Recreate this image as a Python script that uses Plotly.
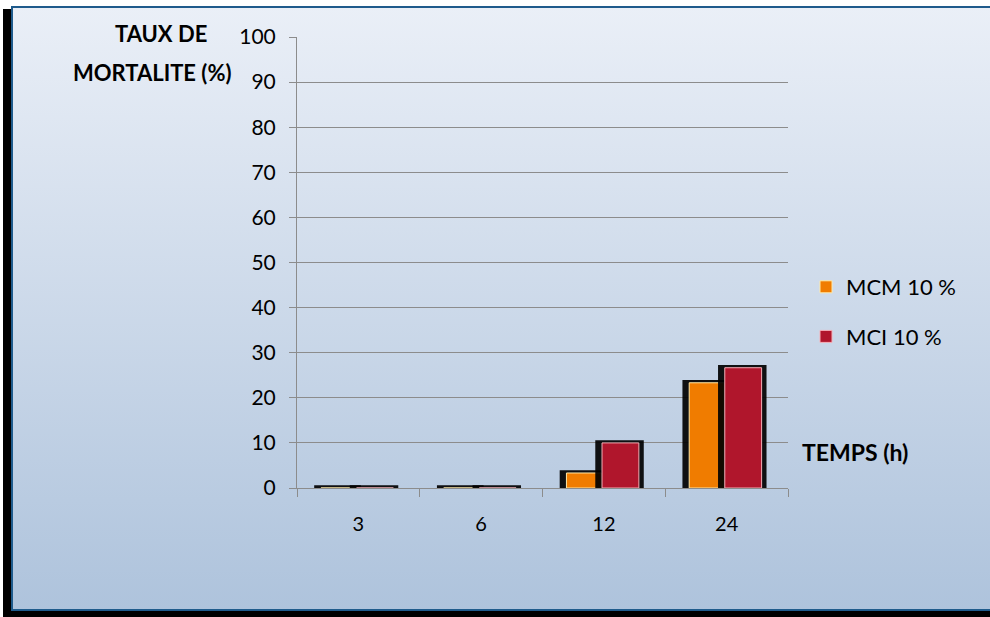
import base64
import plotly.graph_objects as go

# Mortality rate (%) by exposure time (h)
temps = ["3", "6", "12", "24"]
mcm_10 = [0, 0, 3.33, 23.33]
mci_10 = [0, 0, 10, 26.67]
y_ticks = [0, 10, 20, 30, 40, 50, 60, 70, 80, 90, 100]

W, H = 990, 617
ML, MR, MT, MB = 297, 202, 37, 129
PW, PH = W - ML - MR, H - MT - MB

# Frame: gradient fill, blue border, dark drop shadow on left and bottom
svg = (
    f'<svg xmlns="http://www.w3.org/2000/svg" width="{W}" height="{H}" '
    f'viewBox="0 0 {W} {H}" preserveAspectRatio="none">'
    '<defs><linearGradient id="g" x1="0" y1="0" x2="0" y2="1">'
    '<stop offset="0" stop-color="#eaeff7"/>'
    '<stop offset="1" stop-color="#aec3dc"/>'
    '</linearGradient></defs>'
    f'<rect width="{W}" height="{H}" fill="#ffffff"/>'
    f'<rect x="3" y="9" width="9" height="{H}" fill="#000"/>'
    f'<rect x="3" y="610" width="{W}" height="8" fill="#000"/>'
    f'<rect x="12" y="7" width="{W}" height="603" fill="url(#g)" '
    'stroke="#1f5b8c" stroke-width="2"/>'
    '</svg>'
)
bg_src = "data:image/svg+xml;base64," + base64.b64encode(svg.encode()).decode()

SHADOW_EXTRA = 0.6  # shadow rises slightly above each bar

fig = go.Figure()

series = [
    ("MCM 10 %", mcm_10, "#f07c00", "#ffe9a8", -0.305, 0.285),
    ("MCI 10 %", mci_10, "#b0162c", "#f5b0b8", -0.015, 0.30),
]

for name, vals, color, edge, off, wid in series:
    # soft dark shadow behind the bar
    fig.add_trace(go.Bar(
        x=temps, y=[v + SHADOW_EXTRA for v in vals],
        offset=off - 0.055, width=wid + 0.095,
        marker=dict(color="rgba(0,0,0,0.92)", line=dict(width=0)),
        showlegend=False, hoverinfo="skip",
    ))
    fig.add_trace(go.Bar(
        x=temps, y=vals, name=name, legendgroup=name,
        offset=off, width=wid,
        marker=dict(color=color, line=dict(color=edge, width=1)),
    ))

fig.update_layout(
    width=W, height=H,
    margin=dict(l=ML, r=MR, t=MT, b=MB, pad=0),
    barmode="overlay",
    paper_bgcolor="rgba(0,0,0,0)",
    plot_bgcolor="#ffffff",
    font=dict(family="Lato, Open Sans, sans-serif", color="#000000", size=20),
    images=[dict(
        source=bg_src, xref="paper", yref="paper",
        x=-ML / PW, y=1 + MT / PH, sizex=W / PW, sizey=H / PH,
        xanchor="left", yanchor="top", sizing="stretch", layer="below",
    )],
    xaxis=dict(
        type="category", categoryorder="array", categoryarray=temps,
        showgrid=False, showline=True, linecolor="#8c8c8c", linewidth=1,
        ticks="outside", tickson="boundaries", ticklen=8, tickcolor="#8c8c8c",
        ticklabelstandoff=18, tickfont=dict(size=20),
    ),
    yaxis=dict(
        range=[0, 100], tickvals=y_ticks,
        showgrid=True, gridcolor="#8c8c8c", gridwidth=1,
        showline=True, linecolor="#8c8c8c", linewidth=1,
        zeroline=False,
        ticks="outside", ticklen=7, tickcolor="#8c8c8c",
        ticklabelstandoff=9, tickfont=dict(size=21),
    ),
    legend=dict(
        x=(806 - ML) / PW, y=1 - (266 - MT) / PH,
        xanchor="left", yanchor="top",
        bgcolor="rgba(0,0,0,0)", font=dict(size=22),
        tracegroupgap=18, itemwidth=30,
    ),
    annotations=[
        dict(text="<b>TAUX DE</b>", xref="paper", yref="paper",
             x=(161 - ML) / PW, y=1 - (33 - MT) / PH,
             xanchor="center", yanchor="middle", showarrow=False,
             font=dict(size=22)),
        dict(text="<b>MORTALITE (%)</b>", xref="paper", yref="paper",
             x=(152 - ML) / PW, y=1 - (72 - MT) / PH,
             xanchor="center", yanchor="middle", showarrow=False,
             font=dict(size=22)),
        dict(text="<b>TEMPS (h)</b>", xref="paper", yref="paper",
             x=(800 - ML) / PW, y=1 - (452 - MT) / PH,
             xanchor="left", yanchor="middle", showarrow=False,
             font=dict(size=23)),
    ],
)

fig.write_html("out.html")
